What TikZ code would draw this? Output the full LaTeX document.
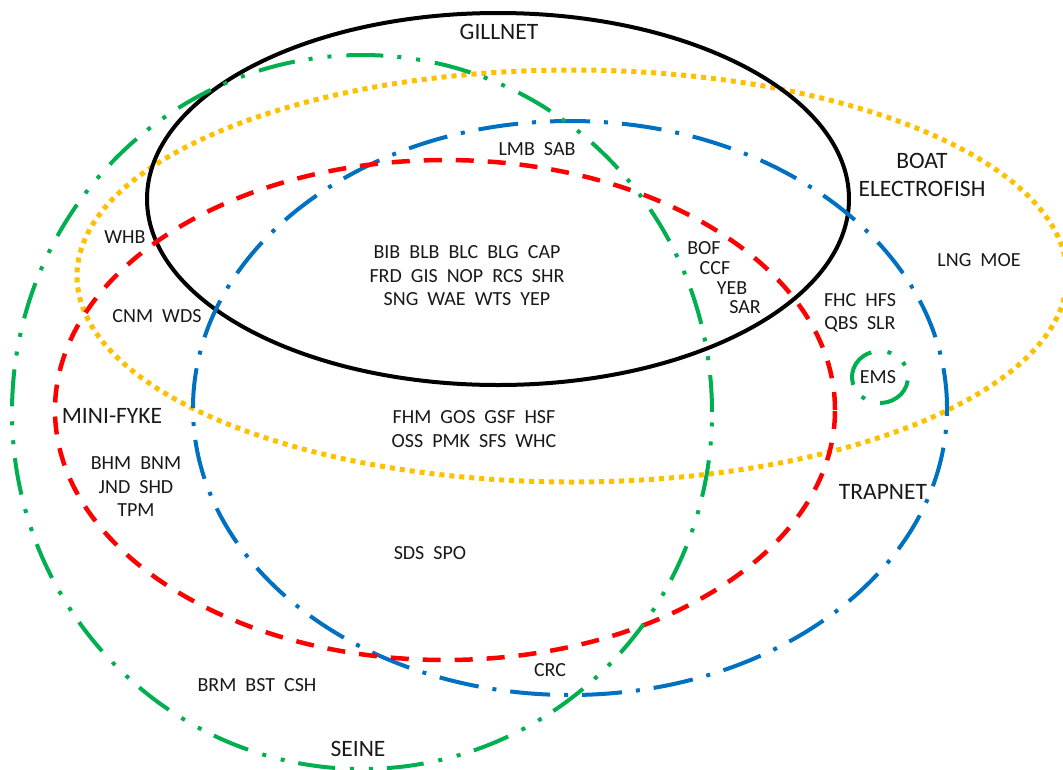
\documentclass[tikz,border=0pt]{standalone}
\usepackage{fontspec}
\setmainfont{Carlito}
\definecolor{sgreen}{HTML}{00B050}
\definecolor{sblue}{HTML}{0070C0}
\definecolor{sred}{HTML}{FF0000}
\definecolor{sorange}{HTML}{FFC000}
\begin{document}
\begin{tikzpicture}[x=1pt,y=-1pt,
  lab/.style={font=\fontsize{20}{23.5}\selectfont, inner sep=0pt, align=center, text=black!90},
  big/.style={font=\fontsize{23.5}{28}\selectfont, inner sep=0pt, align=center, text=black!90},
  gillnetline/.style={draw=black, line width=4pt},
  boatline/.style={draw=sorange, line width=5pt, dash pattern=on 5pt off 5pt},
  seineline/.style={draw=sgreen, line width=4pt, dash pattern=on 37pt off 15pt on 4pt off 15pt on 4pt off 14pt},
  fykeline/.style={draw=sred, line width=4.5pt, dash pattern=on 18pt off 14pt},
  trapline/.style={draw=sblue, line width=4pt, dash pattern=on 40pt off 14pt on 4pt off 14pt},
  emsline/.style={draw=sgreen, line width=4pt, dash pattern=on 38.6pt off 16pt on 4pt off 14.5pt on 41.5pt off 16.4pt on 4pt off 14.8pt on 4pt off 15.9pt}
]
\useasboundingbox (0,0) rectangle (1063,769);
\clip (0,0) rectangle (1063,769);
\fill[white] (0,0) rectangle (1063,769);

% sets
\draw[boatline] (572,276) ellipse [x radius=495pt, y radius=206pt];
\draw[gillnetline] (498,199) ellipse [x radius=351pt, y radius=186pt];
\draw[trapline] (570,408) ellipse [x radius=377pt, y radius=287pt];
\draw[fykeline] (445,410) ellipse [x radius=390pt, y radius=250pt];
\draw[seineline] (362,412) ellipse [x radius=350pt, y radius=357pt];
\coordinate (emsc) at (880,377);
\draw[emsline] ([shift={(-8:28pt and 26pt)}]emsc) arc[start angle=-8, end angle=-368, x radius=28pt, y radius=26pt];

% set titles
\node[big] (tgill) at (499,32) {GILLNET};
\node[big] (tboat) at (922,175) {BOAT\\ELECTROFISH};
\node[big] (tfyke) at (112,416) {MINI-FYKE};
\node[big] (ttrap) at (883,492) {TRAPNET};
\node[big] (tseine) at (358,749) {SEINE};

% species
\node[lab] (lmb) at (537,149) {LMB~~SAB};
\node[lab] (core) at (467,276) {BIB~~BLB~~BLC~~BLG~~CAP\\FRD~~GIS~~NOP~~RCS~~SHR\\SNG~~WAE~~WTS~~YEP};
\node[lab] (whb) at (125,237) {WHB};
\node[lab] (cnm) at (157,316) {CNM~~WDS};
\node[lab] (bof) at (704,248) {BOF};
\node[lab] (ccf) at (715,268) {CCF};
\node[lab] (yeb) at (732,288) {YEB};
\node[lab] (sar) at (745,307) {SAR};
\node[lab] (lng) at (979,260) {LNG~~MOE};
\node[lab] (fhc) at (860,313) {FHC~~HFS\\QBS~~SLR};
\node[lab] (ems) at (878,377) {EMS};
\node[lab] (fhm) at (474,429) {FHM~~GOS~~GSF~~HSF\\OSS~~PMK~~SFS~~WHC};
\node[lab] (bhm) at (136,487) {BHM~~BNM\\JND~~SHD\\TPM};
\node[lab] (sds) at (430,553) {SDS~~SPO};
\node[lab] (crc) at (550,670) {CRC};
\node[lab] (brm) at (257,685) {BRM~~BST~~CSH};
\end{tikzpicture}
\end{document}
